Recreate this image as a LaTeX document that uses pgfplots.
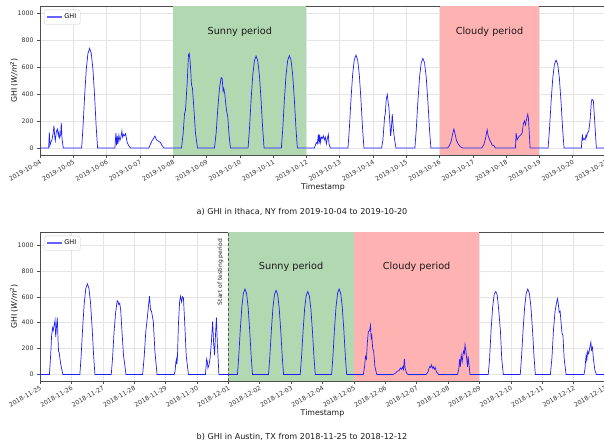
\documentclass[border=0pt]{standalone}
\usepackage{fontspec}
\setmainfont{DejaVu Sans}
\usepackage{pgfplots}
\pgfplotsset{compat=1.18}
\usepackage{pgfplotstable}

\pgfplotstableread{
x y
0 0
0.26 0
0.28 115
0.30 20
0.33 45
0.36 60
0.40 120
0.42 165
0.44 90
0.46 55
0.49 120
0.52 140
0.55 90
0.57 120
0.59 75
0.62 100
0.64 185
0.66 70
0.70 0
1.25 0
1.29 147
1.34 383
1.39 582
1.44 700
1.49 737
1.54 700
1.59 582
1.64 383
1.69 147
1.73 0
2.25 0
2.28 110
2.30 20
2.32 90
2.34 30
2.37 95
2.40 55
2.43 80
2.46 125
2.48 80
2.51 100
2.54 90
2.57 105
2.62 40
2.68 10
2.72 0
3.27 0
3.32 30
3.37 55
3.42 75
3.45 88
3.48 70
3.52 55
3.56 50
3.62 40
3.66 20
3.72 0
4.25 0
4.30 110
4.34 250
4.37 280
4.42 480
4.46 690
4.48 700
4.51 640
4.55 470
4.58 440
4.62 300
4.67 110
4.73 0
5.24 0
5.29 110
5.34 290
5.39 440
5.44 520
5.47 515
5.50 420
5.52 440
5.55 400
5.60 280
5.64 230
5.68 90
5.72 0
6.25 0
6.29 136
6.34 354
6.39 537
6.44 646
6.49 680
6.54 646
6.59 537
6.64 354
6.69 136
6.73 0
7.25 0
7.29 137
7.34 355
7.39 540
7.44 649
7.49 683
7.54 649
7.59 540
7.64 355
7.69 137
7.73 0
8.24 0
8.27 20
8.30 40
8.33 30
8.36 100
8.38 30
8.40 100
8.42 40
8.45 80
8.48 70
8.51 90
8.54 60
8.57 80
8.60 30
8.63 70
8.66 100
8.68 30
8.72 0
9.25 0
9.29 137
9.34 357
9.39 543
9.44 653
9.49 687
9.54 653
9.59 543
9.64 357
9.69 137
9.73 0
10.26 0
10.30 60
10.35 230
10.37 250
10.40 360
10.43 395
10.46 330
10.48 300
10.51 180
10.53 90
10.55 130
10.58 250
10.61 150
10.64 80
10.69 0
11.26 0
11.30 133
11.35 345
11.40 524
11.45 630
11.50 663
11.55 630
11.60 524
11.65 345
11.70 133
11.74 0
12.25 0
12.30 20
12.35 50
12.39 100
12.43 140
12.47 100
12.51 55
12.56 30
12.62 10
12.70 0
13.27 0
13.33 25
13.38 70
13.43 135
13.46 90
13.49 70
13.52 50
13.55 40
13.58 20
13.62 20
13.68 0
14.28 0
14.30 110
14.33 60
14.37 80
14.41 90
14.45 100
14.48 110
14.52 180
14.55 200
14.58 170
14.62 220
14.65 250
14.67 220
14.72 0
15.26 0
15.30 130
15.35 338
15.40 514
15.45 618
15.50 650
15.55 618
15.60 514
15.65 338
15.70 130
15.74 0
16.26 0
16.29 100
16.31 60
16.34 70
16.37 60
16.40 95
16.42 80
16.44 110
16.48 120
16.52 200
16.56 340
16.58 360
16.62 350
16.66 200
16.71 0
17 0
}\ithaca

\pgfplotstableread{
x y
0 0
0.30 0
0.34 150
0.37 300
0.40 360
0.42 340
0.45 380
0.48 420
0.50 290
0.52 350
0.55 440
0.57 300
0.59 180
0.61 170
0.66 80
0.73 0
1.27 0
1.31 140
1.36 364
1.41 553
1.46 665
1.51 700
1.56 665
1.61 553
1.66 364
1.71 140
1.75 0
2.27 0
2.31 120
2.36 330
2.41 480
2.46 570
2.49 560
2.51 540
2.54 550
2.57 500
2.61 340
2.66 150
2.74 0
3.27 0
3.32 140
3.37 330
3.42 440
3.46 540
3.49 605
3.52 500
3.55 490
3.58 450
3.61 410
3.66 180
3.73 0
4.27 0
4.30 20
4.33 100
4.35 120
4.36 80
4.38 140
4.41 390
4.45 570
4.48 605
4.51 560
4.54 600
4.57 590
4.61 400
4.66 140
4.73 0
5.27 0
5.31 120
5.33 100
5.35 50
5.38 70
5.42 130
5.46 250
5.50 410
5.53 250
5.56 150
5.60 350
5.62 440
5.65 240
5.70 0
6.29 0
6.33 132
6.38 343
6.43 521
6.48 627
6.53 660
6.58 627
6.63 521
6.68 343
6.73 132
6.77 0
7.28 0
7.32 130
7.37 338
7.42 514
7.47 618
7.52 650
7.57 618
7.62 514
7.67 338
7.72 130
7.76 0
8.29 0
8.33 128
8.38 333
8.43 506
8.48 608
8.53 640
8.58 608
8.63 506
8.68 333
8.73 128
8.77 0
9.29 0
9.33 132
9.38 343
9.43 521
9.48 627
9.53 660
9.58 627
9.63 521
9.68 343
9.73 132
9.77 0
10.30 0
10.34 60
10.37 140
10.40 120
10.43 250
10.46 330
10.50 340
10.53 380
10.55 280
10.57 300
10.60 200
10.63 180
10.67 60
10.73 0
11.25 0
11.32 10
11.38 25
11.44 30
11.48 50
11.52 40
11.56 60
11.58 40
11.61 120
11.63 50
11.68 10
11.73 0
12.30 0
12.36 20
12.41 60
12.44 55
12.47 75
12.50 50
12.53 60
12.56 40
12.59 55
12.63 20
12.70 0
13.30 0
13.34 40
13.37 120
13.39 60
13.42 150
13.45 100
13.49 180
13.52 160
13.54 230
13.57 180
13.59 130
13.62 60
13.64 140
13.67 70
13.70 0
14.28 0
14.32 110
14.37 340
14.42 520
14.47 620
14.52 640
14.56 620
14.59 560
14.62 480
14.64 420
14.67 330
14.71 120
14.76 0
15.30 0
15.34 132
15.39 343
15.44 521
15.49 627
15.54 660
15.59 627
15.64 521
15.69 343
15.74 132
15.78 0
16.26 0
16.31 130
16.36 350
16.41 490
16.46 560
16.49 585
16.51 550
16.54 480
16.57 490
16.60 400
16.63 320
16.66 300
16.70 120
16.76 0
17.33 0
17.36 40
17.38 100
17.40 150
17.42 110
17.45 180
17.48 160
17.51 200
17.55 250
17.57 190
17.60 210
17.63 120
17.68 30
17.73 0
18 0
}\austin

\definecolor{spanGreen}{RGB}{178,216,178}
\definecolor{spanRed}{RGB}{255,178,178}
\definecolor{ghiblue}{RGB}{30,30,250}
\definecolor{legblue}{RGB}{100,100,255}

\pgfplotsset{ghistyle/.style={
  scale only axis, height=149pt,
  axis line style={black!70, line width=0.6pt},
  tick align=outside, xtick pos=bottom, ytick pos=left,
  major tick length=3pt,
  tick style={black!70, line width=0.5pt},
  xmajorgrids, ymajorgrids,
  grid style={black!10, line width=0.4pt},
  ticklabel style={font=\fontsize{6.2}{7}\selectfont, text=black!80},
  xticklabel style={rotate=30, anchor=north east, inner sep=1pt},
  /pgf/number format/assume math mode=true,
  /pgf/number format/1000 sep={},
  ytick={0,200,400,600,800,1000},
  xlabel=Timestamp,
  ylabel={GHI (\textit{W/m}\textsuperscript{2})},
  label style={font=\fontsize{7.8}{9}\selectfont, text=black!90},
  xlabel style={at={(rel axis cs:0.5,0)}, anchor=center, yshift=-32pt},
  ylabel style={at={(rel axis cs:0,0.5)}, anchor=center, rotate=0, yshift=26pt},
  legend style={at={(0.007,0.975)}, anchor=north west, draw=black!20,
    rounded corners=1.5pt, font=\fontsize{6.5}{7.5}\selectfont, inner sep=2pt,
    fill=white},
  legend cell align=left,
}}

\begin{document}
\begin{tikzpicture}
\path[use as bounding box] (0,0) rectangle (604pt,-446pt);

% ---------- panel a ----------
\begin{axis}[ghistyle,
  at={(40pt,-155pt)}, anchor=south west,
  width=566pt,
  xmin=0, xmax=17, ymin=-52, ymax=1050,
  xtick={0,...,17},
  xticklabels={2019-10-04,2019-10-05,2019-10-06,2019-10-07,2019-10-08,2019-10-09,2019-10-10,2019-10-11,2019-10-12,2019-10-13,2019-10-14,2019-10-15,2019-10-16,2019-10-17,2019-10-18,2019-10-19,2019-10-20,2019-10-21},
]
\addlegendimage{legend image code/.code={\draw[legblue, line width=1.2pt] (0pt,0pt) -- (15pt,0pt);}}
\addlegendentry{GHI}
\addplot[draw=none, fill=spanGreen, forget plot] coordinates {(4,-52) (4,1050) (8,1050) (8,-52)} -- cycle;
\addplot[draw=none, fill=spanRed, forget plot] coordinates {(12,-52) (12,1050) (15,1050) (15,-52)} -- cycle;
\addplot[color=ghiblue, line width=0.7pt, forget plot] table[x=x, y=y] {\ithaca};
\node[font=\fontsize{9.7}{11}\selectfont, text=black!90] at (axis cs:6,860) {Sunny period};
\node[font=\fontsize{9.7}{11}\selectfont, text=black!90] at (axis cs:13.5,860) {Cloudy period};
\end{axis}
\node[font=\fontsize{8.1}{10}\selectfont, text=black!90] at (302pt,-212pt) {a) GHI in Ithaca, NY from 2019-10-04 to 2019-10-20};

% ---------- panel b ----------
\begin{axis}[ghistyle,
  at={(40pt,-381pt)}, anchor=south west,
  width=565pt,
  xmin=0, xmax=18, ymin=-50, ymax=1100,
  xtick={0,...,18},
  xticklabels={2018-11-25,2018-11-26,2018-11-27,2018-11-28,2018-11-29,2018-11-30,2018-12-01,2018-12-02,2018-12-03,2018-12-04,2018-12-05,2018-12-06,2018-12-07,2018-12-08,2018-12-09,2018-12-10,2018-12-11,2018-12-12,2018-12-13},
]
\addlegendimage{legend image code/.code={\draw[legblue, line width=1.2pt] (0pt,0pt) -- (15pt,0pt);}}
\addlegendentry{GHI}
\addplot[draw=none, fill=spanGreen, forget plot] coordinates {(6,-50) (6,1100) (10,1100) (10,-50)} -- cycle;
\addplot[draw=none, fill=spanRed, forget plot] coordinates {(10,-50) (10,1100) (14,1100) (14,-50)} -- cycle;
\addplot[black!65, line width=1pt, densely dashed, forget plot] coordinates {(6,-50) (6,1100)};
\addplot[color=ghiblue, line width=0.7pt, forget plot] table[x=x, y=y] {\austin};
\node[font=\fontsize{9.7}{11}\selectfont, text=black!90] at (axis cs:8,830) {Sunny period};
\node[font=\fontsize{9.7}{11}\selectfont, text=black!90] at (axis cs:12,830) {Cloudy period};
\node[rotate=90, anchor=east, font=\fontsize{6}{7}\selectfont, text=black!85, inner sep=1pt] at (axis cs:5.75,1055) {Start of testing period};
\end{axis}
\node[font=\fontsize{8.1}{10}\selectfont, text=black!90] at (302pt,-437pt) {b) GHI in Austin, TX from 2018-11-25 to 2018-12-12};
\end{tikzpicture}
\end{document}
